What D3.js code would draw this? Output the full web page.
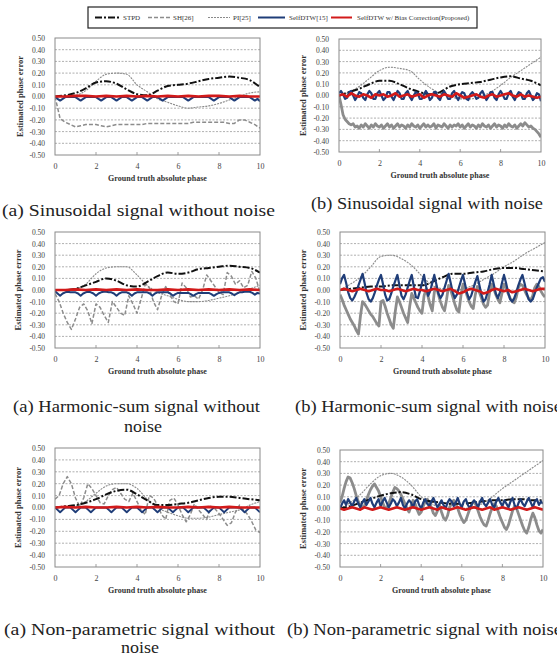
<!DOCTYPE html>
<html><head><meta charset="utf-8">
<script src="https://cdn.jsdelivr.net/npm/d3@7/dist/d3.min.js"></script>
<style>html,body{margin:0;padding:0;background:#fff;overflow:hidden}</style>
</head><body>
<svg id="c" width="557" height="660"></svg>
<script>
// ---------- data ----------
const seriesNames = ["STPD","SH[26]","PI[25]","SelfDTW[15]","SelfDTW w/ Bias Correction(Proposed)"];
const xTicks = [0,2,4,6,8,10];
const yTicks = [0.5,0.4,0.3,0.2,0.1,0,-0.1,-0.2,-0.3,-0.4,-0.5];
const yTickLabels = ["0.50","0.40","0.30","0.20","0.10","0.00","-0.10","-0.20","-0.30","-0.40","-0.50"];
const xTitle = "Ground truth absolute phase";
const yTitle = "Estimated phase error";
const captions = [
  ["(a) Sinusoidal signal without noise"],
  ["(b) Sinusoidal signal with noise"],
  ["(a) Harmonic-sum signal without","noise"],
  ["(b) Harmonic-sum signal with noise"],
  ["(a) Non-parametric signal without","noise"],
  ["(b) Non-parametric signal with noise"]
];

// Panel 1: sinusoidal, no noise
const stpd1 = [0.00,0.01,0.03,0.07,0.12,0.13,0.11,0.06,0.02,0.01,0.05,0.09,0.10,0.11,0.13,0.15,0.16,0.17,0.16,0.14,0.08];
const sh1 = [0.00,-0.19,-0.22,-0.24,-0.26,-0.25,-0.24,-0.24,-0.24,-0.25,-0.26,-0.25,-0.24,-0.24,-0.24,-0.24,-0.24,-0.24,-0.23,-0.23,-0.23,-0.23,-0.23,-0.23,-0.23,-0.23,-0.23,-0.22,-0.22,-0.22,-0.22,-0.22,-0.22,-0.22,-0.23,-0.23,-0.20,-0.20,-0.22,-0.24,-0.27];
const pi1 = [0.00,0.00,0.01,0.05,0.13,0.19,0.20,0.19,0.10,0.04,-0.02,-0.05,-0.08,-0.10,-0.09,-0.08,-0.06,-0.03,0.00,0.03,0.04];
const blue1 = [0.00,-0.02,-0.035,-0.02,-0.005,-0.005,-0.005,-0.005,-0.005,-0.02,
 -0.035,-0.02,-0.005,-0.005,-0.005,-0.005,-0.005,-0.02,-0.035,-0.02,
 -0.005,-0.005,-0.005,-0.02,-0.035,-0.02,-0.005,-0.005,-0.005,-0.02,
 -0.035,-0.02,-0.005,-0.005,-0.005,-0.02,-0.035,-0.02,-0.005,-0.005,
 -0.005,-0.02,-0.035,-0.02,-0.005,-0.005,-0.005,-0.005,-0.005,-0.005,
 -0.005,-0.02,-0.035,-0.02,-0.005,-0.005,-0.005,-0.005,-0.005,-0.005,
 -0.005,-0.02,-0.035,-0.02,-0.005,-0.005,-0.005,-0.005,-0.005,-0.02,
 -0.035,-0.02,-0.005,-0.005,-0.005,-0.005,-0.005,-0.02,-0.035,-0.02,-0.04];
const red1 = [0.00,0.00,0.005,0.005,0.00,0.005,0.00,0.005,0.00,0.005,0.00,0.005,0.00,0.005,0.00,0.005,0.005,0.00,0.005,0.00,0.00];

// Panel 2: sinusoidal, with noise
const stpd2 = [0.00,0.03,0.06,0.10,0.13,0.13,0.10,0.06,0.03,0.01,0.03,0.08,0.10,0.11,0.12,0.14,0.16,0.17,0.15,0.13,0.09];
const sh2 = [0.00,-0.08,-0.17,-0.21,-0.23,-0.25,-0.26,-0.25,-0.28,-0.27,
 -0.29,-0.26,-0.28,-0.25,-0.27,-0.29,-0.26,-0.28,-0.25,-0.27,
 -0.28,-0.26,-0.29,-0.27,-0.25,-0.28,-0.26,-0.29,-0.27,-0.25,
 -0.28,-0.26,-0.27,-0.29,-0.26,-0.28,-0.25,-0.27,-0.28,-0.26,
 -0.29,-0.27,-0.25,-0.28,-0.26,-0.28,-0.27,-0.25,-0.29,-0.26,
 -0.27,-0.28,-0.25,-0.27,-0.29,-0.26,-0.28,-0.26,-0.27,-0.25,
 -0.28,-0.26,-0.29,-0.27,-0.25,-0.28,-0.26,-0.27,-0.29,-0.26,
 -0.28,-0.25,-0.27,-0.28,-0.26,-0.29,-0.27,-0.25,-0.28,-0.26,
 -0.27,-0.29,-0.26,-0.28,-0.25,-0.27,-0.28,-0.26,-0.29,-0.27,
 -0.25,-0.27,-0.24,-0.26,-0.28,-0.27,-0.29,-0.30,-0.32,-0.34,-0.37];
const pi2 = [0.00,0.03,0.08,0.15,0.22,0.25,0.24,0.22,0.14,0.07,0.02,-0.01,-0.03,-0.03,-0.01,0.03,0.09,0.16,0.22,0.28,0.34];
const blue2 = [0.02,0.04,0.01,-0.03,-0.02,0.03,0.04,0.00,-0.04,-0.01,
 0.03,0.02,-0.02,-0.04,0.01,0.04,0.02,-0.03,-0.03,0.02,
 0.04,0.00,-0.04,-0.02,0.03,0.03,-0.01,-0.04,0.00,0.04,
 0.02,-0.03,-0.03,0.02,0.04,-0.01,-0.04,0.00,0.03,0.02,
 -0.03,-0.03,0.01,0.04,0.01,-0.04,-0.02,0.03,0.03,-0.02,
 -0.04,0.01,0.04,0.01,-0.03,-0.03,0.02,0.04,-0.01,-0.04,
 0.00,0.03,0.02,-0.03,-0.04,0.01,0.03,0.01,-0.03,-0.02,
 0.02,0.04,0.00,-0.04,-0.01,0.03,0.03,-0.02,-0.04,0.01,
 0.04,0.01,-0.03,-0.03,0.02,0.04,-0.01,-0.04,0.00,0.03,
 0.02,-0.03,-0.03,0.02,0.04,0.00,-0.04,-0.02,0.02,0.01,-0.05];
const red2 = [0.00,0.01,-0.01,0.02,0.00,-0.01,0.01,0.00,-0.02,0.01,0.00,0.01,-0.01,0.00,0.02,-0.01,0.00,0.01,-0.01,0.00,0.01,-0.02,0.00,0.01,0.00,-0.01,0.01,0.00,-0.01,0.02,0.00,-0.02,-0.01,0.00,0.01,-0.01,-0.02,0.00,0.01,-0.01,0.00,0.01,0.02,0.00,-0.01,0.01,-0.01,0.00,-0.01,-0.02,-0.01];

// Panel 3: harmonic-sum, no noise
const stpd3 = [0.00,0.00,0.01,0.04,0.07,0.10,0.08,0.04,0.03,0.07,0.12,0.15,0.14,0.15,0.18,0.19,0.20,0.21,0.20,0.19,0.15];
const sh3 = [-0.03,-0.10,-0.20,-0.28,-0.34,-0.25,-0.15,-0.12,-0.18,-0.29,-0.12,-0.15,-0.22,-0.28,-0.10,-0.15,-0.20,-0.22,-0.05,-0.12,-0.20,-0.08,0.05,0.02,-0.10,-0.17,-0.05,0.03,-0.04,-0.10,-0.12,0.06,0.02,-0.06,-0.05,-0.08,0.00,0.13,0.08,0.03,-0.02,-0.04,0.15,0.12,0.05,0.08,0.02,0.04,0.16,0.10,-0.02];
const pi3 = [0.00,0.00,0.01,0.05,0.14,0.19,0.20,0.20,0.13,0.04,-0.02,-0.05,-0.08,-0.10,-0.10,-0.09,-0.07,-0.05,-0.02,0.01,0.04];
const blue3 = [-0.01,-0.03,-0.05,-0.03,-0.02,-0.015,-0.02,-0.02,-0.02,-0.03,
 -0.05,-0.03,-0.02,-0.015,-0.02,-0.03,-0.05,-0.03,-0.02,-0.015,
 -0.015,-0.02,-0.02,-0.03,-0.05,-0.03,-0.02,-0.02,-0.02,-0.03,
 -0.05,-0.03,-0.02,-0.02,-0.02,-0.02,-0.02,-0.03,-0.05,-0.03,
 -0.02,-0.02,-0.02,-0.02,-0.02,-0.03,-0.05,-0.035,-0.025,-0.025,
 -0.025,-0.025,-0.025,-0.035,-0.05,-0.035,-0.025,-0.025,-0.025,-0.025,
 -0.025,-0.035,-0.05,-0.035,-0.025,-0.02,-0.02,-0.02,-0.02,-0.03,
 -0.045,-0.03,-0.02,-0.02,-0.015,-0.015,-0.015,-0.025,-0.04,-0.025,-0.03];
const red3 = [0.00,0.00,0.005,0.00,0.005,0.00,0.005,0.00,0.005,0.00,0.00,0.005,0.00,0.005,0.00,0.005,0.00,0.005,0.00,0.005,0.00];

// Panel 4: harmonic-sum, with noise
const stpd4 = [0.00,0.01,0.02,0.03,0.03,0.04,0.04,0.04,0.04,0.07,0.11,0.14,0.14,0.15,0.16,0.18,0.19,0.19,0.18,0.17,0.16];
const sh4 = [-0.04,-0.08,-0.13,-0.17,-0.21,-0.25,-0.28,-0.31,-0.35,-0.38,
 -0.22,-0.10,-0.12,-0.15,-0.18,-0.21,-0.23,-0.26,-0.29,-0.31,
 -0.10,-0.09,-0.14,-0.20,-0.25,-0.30,-0.33,-0.18,-0.06,-0.10,
 -0.15,-0.20,-0.24,-0.28,-0.14,-0.03,-0.07,-0.11,-0.15,-0.18,
 -0.20,-0.05,0.01,-0.06,-0.13,-0.18,-0.02,0.03,-0.04,-0.10,
 -0.15,-0.18,-0.08,0.04,0.00,-0.06,-0.12,-0.17,-0.19,-0.05,
 0.05,0.01,-0.05,-0.10,-0.14,-0.16,-0.04,0.03,-0.02,-0.07,
 -0.12,-0.15,-0.13,-0.02,0.05,0.01,-0.04,-0.08,-0.11,-0.03,
 0.05,0.02,-0.03,-0.07,-0.10,-0.11,-0.06,0.02,0.05,0.04,
 0.00,-0.04,-0.07,-0.09,-0.05,0.02,0.05,0.03,-0.01,-0.04,-0.06];
const pi4 = [0.00,0.05,0.11,0.20,0.29,0.30,0.27,0.21,0.12,0.04,0.01,0.00,0.01,0.04,0.09,0.14,0.20,0.25,0.31,0.36,0.41];
const blue4 = [0.05,0.10,0.13,0.06,-0.02,-0.07,-0.09,-0.06,-0.02,0.04,
 0.09,0.14,0.06,-0.03,-0.08,-0.10,-0.07,-0.02,0.04,0.09,
 0.13,0.05,-0.04,-0.09,-0.08,-0.03,0.03,0.08,0.13,0.04,
 -0.05,-0.08,-0.04,0.02,0.08,0.13,0.03,-0.06,-0.07,-0.01,
 0.06,0.13,0.03,-0.05,-0.01,0.06,0.13,0.05,-0.03,-0.07,
 -0.04,0.02,0.08,0.14,0.06,-0.02,-0.07,-0.04,0.02,0.08,
 0.13,0.05,-0.03,-0.08,-0.05,0.01,0.07,0.12,0.04,-0.04,
 -0.10,-0.08,-0.02,0.05,0.13,0.05,-0.03,-0.07,-0.02,0.06,
 0.13,0.06,-0.02,-0.08,-0.10,-0.07,-0.02,0.04,0.09,0.13,
 0.06,-0.02,-0.08,-0.10,-0.08,-0.03,0.02,0.06,0.10,0.11,0.07];
const red4 = [0.00,0.01,0.00,-0.01,0.00,0.01,0.00,-0.01,0.00,0.01,0.00,0.00,-0.01,0.00,0.01,0.00,-0.01,0.00,0.01,0.00,0.00,-0.01,0.00,0.01,0.00,-0.01,0.00,0.01,-0.01,-0.03,-0.02,0.00,0.01,0.00,-0.01,-0.03,-0.02,0.00,0.01,0.00,-0.01,0.00,-0.02,-0.01,0.00,0.01,0.00,-0.01,0.00,0.01,0.01];

// Panel 5: non-parametric, no noise
const stpd5 = [0.00,0.01,0.02,0.04,0.07,0.11,0.14,0.15,0.11,0.06,0.02,0.02,0.03,0.04,0.06,0.08,0.09,0.09,0.08,0.07,0.06];
const sh5 = [0.07,0.10,0.20,0.26,0.20,0.08,0.01,0.08,0.20,0.16,0.10,0.04,0.03,0.10,0.15,0.17,0.12,0.07,0.05,0.12,0.05,-0.02,-0.06,0.10,0.08,0.02,-0.06,-0.10,0.06,0.08,0.02,-0.06,-0.12,-0.06,0.03,-0.02,-0.06,-0.10,0.01,-0.01,-0.05,-0.10,-0.15,-0.13,-0.04,0.02,-0.02,-0.06,-0.12,-0.19,-0.21];
const pi5 = [0.00,0.00,0.01,0.05,0.12,0.18,0.20,0.20,0.16,0.07,0.00,-0.04,-0.07,-0.09,-0.09,-0.08,-0.06,-0.04,-0.02,0.02,0.05];
const blue5 = [0.00,-0.02,-0.04,-0.02,0.00,0.00,0.00,-0.02,-0.04,-0.02,
 0.00,0.00,0.00,-0.02,-0.04,-0.02,0.00,0.00,0.00,0.00,
 0.00,-0.02,-0.04,-0.02,0.00,0.00,0.00,-0.02,-0.04,-0.02,
 0.00,0.00,0.00,-0.02,-0.04,-0.02,0.00,0.00,0.00,-0.02,
 -0.04,-0.02,0.00,0.00,0.00,-0.02,-0.04,-0.02,0.00,0.00,
 0.00,-0.02,-0.04,-0.02,0.00,0.00,0.00,0.00,0.00,-0.02,
 -0.04,-0.02,0.00,0.00,0.00,-0.02,-0.04,-0.02,0.00,0.00,
 0.00,0.00,0.00,-0.02,-0.04,-0.02,0.00,0.00,0.00,-0.02,-0.04];
const red5 = [0.00,0.005,0.00,0.005,0.00,0.00,0.005,0.00,0.005,0.00,0.005,0.00,0.00,0.005,0.00,0.005,0.00,0.005,0.00,0.00,0.00];

// Panel 6: non-parametric, with noise
const stpd6 = [0.00,0.02,0.05,0.08,0.11,0.13,0.14,0.12,0.08,0.06,0.05,0.04,0.04,0.05,0.06,0.07,0.07,0.08,0.08,0.07,0.07];
const sh6 = [0.05,0.10,0.17,0.23,0.27,0.26,0.22,0.17,0.11,0.06,
 0.03,0.01,0.02,0.07,0.12,0.16,0.19,0.21,0.18,0.15,
 0.10,0.05,0.01,0.00,0.04,0.09,0.14,0.18,0.17,0.15,
 0.12,0.08,0.04,0.00,-0.03,0.02,0.07,0.04,-0.01,-0.05,
 -0.03,0.02,0.06,0.08,0.05,0.01,-0.04,-0.06,-0.02,0.03,
 -0.03,-0.08,-0.10,-0.06,0.01,0.05,0.07,0.04,0.00,-0.05,
 -0.09,-0.12,-0.10,-0.05,0.00,0.04,0.06,0.03,-0.02,-0.07,
 -0.11,-0.14,-0.15,-0.10,-0.04,0.01,0.04,0.02,-0.03,-0.08,
 -0.12,-0.16,-0.18,-0.14,-0.08,-0.02,0.02,0.00,-0.05,-0.10,
 -0.15,-0.19,-0.21,-0.16,-0.09,-0.04,-0.08,-0.14,-0.19,-0.21,-0.18];
const pi6 = [0.00,0.05,0.12,0.21,0.28,0.30,0.27,0.20,0.10,0.04,0.01,0.00,0.00,0.01,0.04,0.10,0.17,0.23,0.29,0.35,0.41];
const blue6 = [0.00,0.04,0.07,0.03,0.08,0.05,0.02,0.06,0.09,0.04,
 0.01,0.05,0.08,0.03,0.06,0.09,0.04,0.01,0.05,0.08,
 0.02,0.06,0.09,0.05,0.01,0.04,0.08,0.06,0.02,0.05,
 0.09,0.03,0.00,0.04,0.07,0.05,0.01,0.06,0.08,0.03,
 0.00,0.05,0.08,0.04,0.02,0.06,0.09,0.05,0.01,0.04,
 0.07,0.03,0.00,0.05,0.08,0.06,0.02,0.05,0.09,0.04,
 0.01,0.06,0.08,0.03,0.00,0.04,0.07,0.05,0.01,0.06,
 0.09,0.04,0.02,0.05,0.08,0.03,0.01,0.06,0.09,0.05,
 0.02,0.07,0.04,0.01,0.06,0.09,0.03,0.00,0.05,0.08,
 0.04,0.02,0.06,0.09,0.05,0.01,0.06,0.08,0.03,0.06,0.04];
const red6 = [0.00,-0.01,0.00,0.01,0.00,-0.01,0.01,0.00,-0.01,0.00,0.01,0.00,-0.01,0.00,0.01,0.00,-0.01,0.00,0.01,0.00,-0.01,0.00,0.01,0.00,-0.01,0.01,0.00,-0.01,0.00,0.01,0.00,-0.01,0.00,0.01,0.00,-0.01,0.00,0.01,-0.01,0.00,0.01,0.00,-0.01,0.00,0.01,0.00,-0.01,0.00,0.01,0.00,-0.01];

// ---------- layout ----------
const panels = [
  {L:55,R:260,T:38,B:155, ytx:20,  cap:[{x:2,w:273,y:216}], noisy:false, s:[stpd1,sh1,pi1,blue1,red1]},
  {L:339,R:541,T:39,B:152, ytx:303, cap:[{x:311,w:232,y:209}], noisy:true, s:[stpd2,sh2,pi2,blue2,red2]},
  {L:55,R:260,T:232,B:348, ytx:18, cap:[{x:13,w:247,y:412},{x:124,w:38,y:432}], noisy:false, s:[stpd3,sh3,pi3,blue3,red3]},
  {L:340,R:545,T:232,B:348, ytx:303, cap:[{x:295,w:267,y:412}], noisy:true, s:[stpd4,sh4,pi4,blue4,red4]},
  {L:55,R:260,T:448,B:567, ytx:18, cap:[{x:4,w:271,y:635},{x:121,w:38,y:653}], noisy:false, s:[stpd5,sh5,pi5,blue5,red5]},
  {L:340,R:543,T:450,B:567, ytx:303, cap:[{x:287,w:275,y:635}], noisy:true, s:[stpd6,sh6,pi6,blue6,red6]}
];

const svg = d3.select("#c");
const SERIF = "'Liberation Serif','Times New Roman',serif";
const styles = [
  {stroke:"#111", w:2, dash:"7,2,2,2", curve:d3.curveMonotoneX},
  {stroke:"#8c8c8c", w:1.5, dash:"4,2", curve:d3.curveLinear},
  {stroke:"#8a8a8a", w:1.1, dash:"2,1", curve:d3.curveMonotoneX},
  {stroke:"#1f3d78", w:2, dash:null, curve:d3.curveLinear},
  {stroke:"#d21a1a", w:2.6, dash:null, curve:d3.curveLinear}
];
const drawOrder = [1,2,0,3,4];

panels.forEach((p,pi)=>{
  const g = svg.append("g");
  const x = d3.scaleLinear().domain([0,10]).range([p.L,p.R]);
  const y = d3.scaleLinear().domain([-0.5,0.5]).range([p.B,p.T]);
  g.append("rect").attr("x",p.L).attr("y",p.T).attr("width",p.R-p.L).attr("height",p.B-p.T)
    .attr("fill","#fff");
  g.selectAll("line.grid").data(yTicks.filter(v=>Math.abs(v)<0.45)).join("line")
    .attr("x1",p.L).attr("x2",p.R).attr("y1",d=>y(d)).attr("y2",d=>y(d))
    .attr("stroke","#9a9a9a").attr("stroke-width",0.8).attr("stroke-dasharray","2,1.5");
  g.selectAll("line.xt").data(xTicks.slice(1,-1)).join("line")
    .attr("x1",d=>x(d)).attr("x2",d=>x(d)).attr("y1",p.B).attr("y2",p.B-3)
    .attr("stroke","#888").attr("stroke-width",0.8);
  const clipId = "clip"+pi;
  g.append("clipPath").attr("id",clipId).append("rect")
    .attr("x",p.L).attr("y",p.T).attr("width",p.R-p.L).attr("height",p.B-p.T);
  const lg = g.append("g").attr("clip-path",`url(#${clipId})`);
  drawOrder.forEach(si=>{
    const vals = p.s[si];
    const n = vals.length;
    const st = styles[si];
    let w = st.w, dash = st.dash;
    if (si===1 && p.noisy){ w = 2.8; dash = null; }
    if (si===3 && p.noisy){ w = 2.2; }
    const line = d3.line().x((d,i)=>x(i*10/(n-1))).y(d=>y(d)).curve(st.curve);
    lg.append("path").attr("d",line(vals)).attr("fill","none")
      .attr("stroke",st.stroke).attr("stroke-width",w)
      .attr("stroke-dasharray",dash).attr("stroke-linejoin","round");
  });
  g.append("rect").attr("x",p.L).attr("y",p.T).attr("width",p.R-p.L).attr("height",p.B-p.T)
    .attr("fill","none").attr("stroke","#8a8a8a").attr("stroke-width",1);
  const yAx = d3.axisLeft(y).tickValues(yTicks).tickSize(0).tickPadding(10)
    .tickFormat((d,i)=>yTickLabels[i]);
  const ya = g.append("g").attr("transform",`translate(${p.L},0)`).call(yAx);
  ya.select(".domain").remove();
  ya.selectAll("text").attr("font-family",SERIF).attr("font-size",7.5).attr("fill","#444");
  const xAx = d3.axisBottom(x).tickValues(xTicks).tickSize(0).tickPadding(8.5);
  const xa = g.append("g").attr("transform",`translate(0,${p.B})`).call(xAx);
  xa.select(".domain").remove();
  xa.selectAll("text").attr("font-family",SERIF).attr("font-size",8).attr("fill","#444");
  g.append("text").attr("x",(p.L+p.R)/2).attr("y",p.B+26).attr("text-anchor","middle")
    .attr("font-family",SERIF).attr("font-weight","bold").attr("font-size",8).attr("fill","#333")
    .text(xTitle);
  g.append("text").attr("transform",`translate(${p.ytx},${(p.T+p.B)/2}) rotate(-90)`)
    .attr("text-anchor","middle").attr("dominant-baseline","central")
    .attr("font-family",SERIF).attr("font-weight","bold").attr("font-size",8.5).attr("fill","#333")
    .text(yTitle);
  captions[pi].forEach((t,k)=>{
    const c = p.cap[k];
    g.append("text").attr("x",c.x).attr("y",c.y)
      .attr("font-family",SERIF).attr("font-size",17).attr("fill","#222")
      .attr("textLength",c.w).attr("lengthAdjust","spacingAndGlyphs").text(t);
  });
});

// legend
const leg = svg.append("g");
leg.append("rect").attr("x",88).attr("y",7).attr("width",389).attr("height",21)
  .attr("fill","#fff").attr("stroke","#222").attr("stroke-width",1.2);
const legItems = [
  {x1:95,x2:120,tx:123},
  {x1:148,x2:170,tx:173},
  {x1:208,x2:230,tx:233},
  {x1:258,x2:285,tx:289},
  {x1:331,x2:352,tx:357}
];
legItems.forEach((it,i)=>{
  const st = styles[i];
  leg.append("line").attr("x1",it.x1).attr("x2",it.x2).attr("y1",17.5).attr("y2",17.5)
    .attr("stroke",st.stroke).attr("stroke-width",i>=3?2:st.w).attr("stroke-dasharray",st.dash);
  leg.append("text").attr("x",it.tx).attr("y",17.5).attr("dominant-baseline","central")
    .attr("font-family",SERIF).attr("font-size",7).attr("fill","#333").text(seriesNames[i]);
});
</script>
</body></html>
